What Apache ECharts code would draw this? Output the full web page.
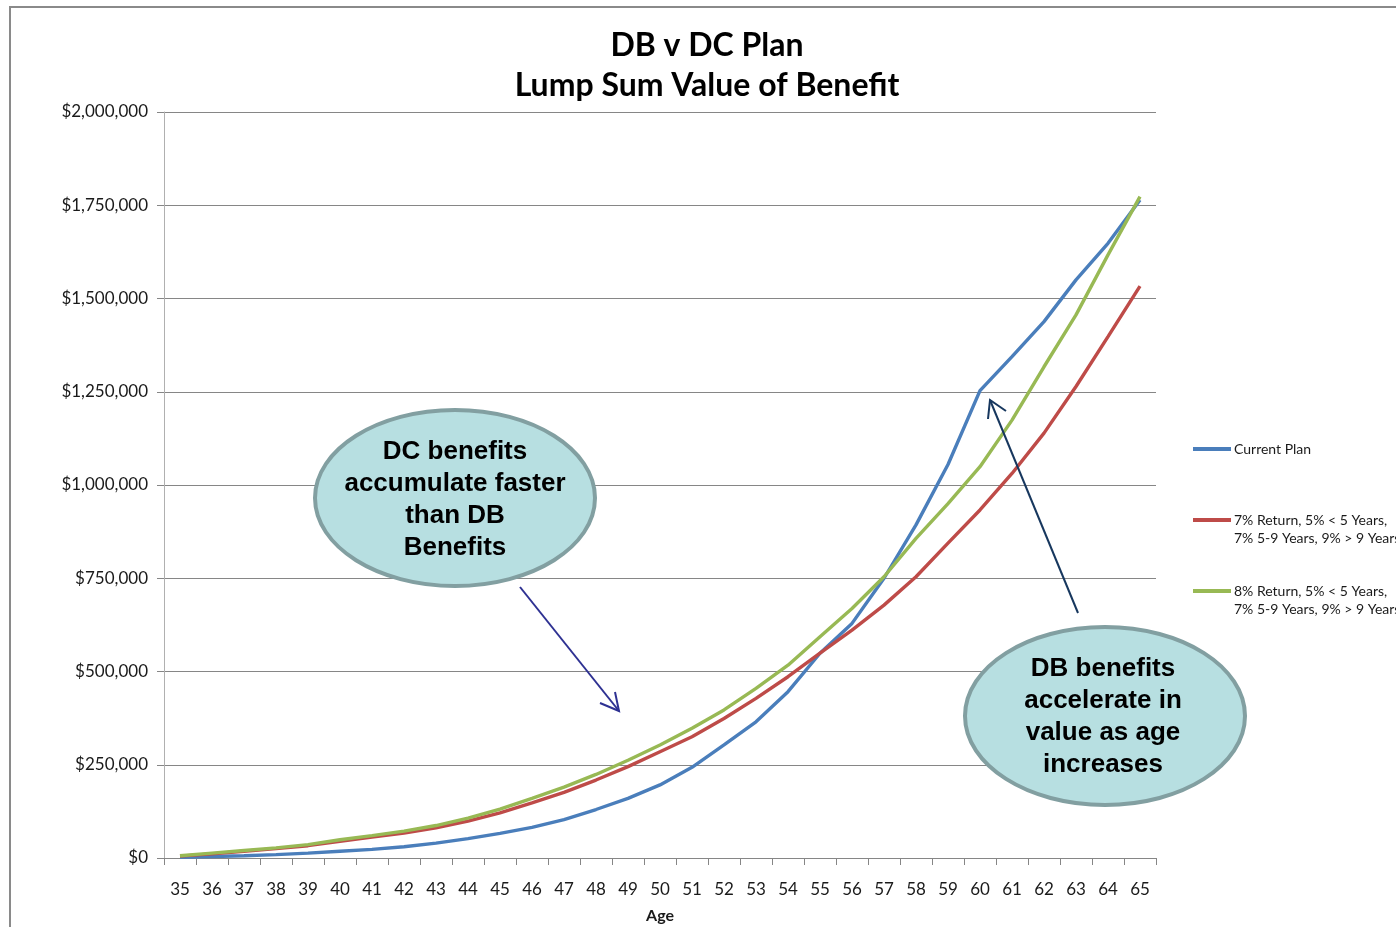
<!DOCTYPE html>
<html>
<head>
<meta charset="utf-8">
<script src="https://cdn.jsdelivr.net/npm/echarts@6/dist/echarts.min.js"></script>
<style>
  html, body { margin: 0; padding: 0; background: #ffffff; }
  #chart { width: 1396px; height: 927px; }
</style>
</head>
<body>
<div id="chart"></div>
<script>
// Ages along the x axis
const ages = ['35','36','37','38','39','40','41','42','43','44','45','46','47','48','49','50',
              '51','52','53','54','55','56','57','58','59','60','61','62','63','64','65'];

// Lump sum value of benefit by age (USD)
const currentPlan = [2000, 4000, 6000, 9000, 13000, 18000, 23000, 30000, 40000, 52000,
                     66000, 82000, 103000, 130000, 160000, 196000, 243000, 303000, 365000, 446000,
                     549000, 629000, 750000, 893000, 1055000, 1253000, 1344000, 1438000, 1550000, 1648000, 1764000];
const return7 = [5000, 11000, 18000, 25000, 33000, 45000, 56000, 67000, 81000, 99000,
                 121000, 148000, 176000, 209000, 245000, 285000, 325000, 374000, 428000, 486000,
                 549000, 611000, 678000, 754000, 844000, 933000, 1031000, 1139000, 1264000, 1398000, 1533000];
const return8 = [6000, 13000, 20000, 27000, 36000, 49000, 60000, 72000, 87000, 107000,
                 131000, 160000, 190000, 224000, 262000, 303000, 348000, 397000, 455000, 517000,
                 593000, 669000, 754000, 857000, 950000, 1049000, 1174000, 1317000, 1456000, 1617000, 1773000];

const seriesNames = [
  'Current Plan',
  '7% Return, 5% < 5 Years,\n7% 5-9 Years, 9% > 9 Years',
  '8% Return, 5% < 5 Years,\n7% 5-9 Years, 9% > 9 Years'
];
const seriesColors = ['#4a7ebb', '#be4b48', '#98b954'];

const yMin = 0, yMax = 2000000, yStep = 250000;

const calloutLeft = ['DC benefits', 'accumulate faster', 'than DB', 'Benefits'];
const calloutRight = ['DB benefits', 'accelerate in', 'value as age', 'increases'];

const chart = echarts.init(document.getElementById('chart'), null, { renderer: 'canvas' });

function money(v) {
  return '$' + String(v).replace(/\B(?=(\d{3})+(?!\d))/g, ',');
}

const axisGray = '#868686';
const uiFont = 'Lato, "Open Sans", sans-serif';
const calloutFont = 'bold 26px "Liberation Sans", Arial, sans-serif';

function lineSeries(name, data, color) {
  return {
    name: name,
    type: 'line',
    data: data,
    symbol: 'none',
    smooth: false,
    lineStyle: { color: color, width: 3.4 },
    itemStyle: { color: color },
    z: 3
  };
}

function calloutText(lines, cx, firstY) {
  return lines.map((t, i) => ({
    type: 'text',
    z: 21,
    style: {
      text: t,
      x: cx,
      y: firstY + i * 32,
      font: calloutFont,
      fill: '#000000',
      align: 'center',
      verticalAlign: 'middle'
    }
  }));
}

const option = {
  backgroundColor: '#ffffff',
  animation: false,
  title: {
    text: 'DB v DC Plan\nLump Sum Value of Benefit',
    left: 702,
    top: 21,
    textAlign: 'center',
    textStyle: {
      fontFamily: uiFont,
      fontWeight: 'bold',
      fontSize: 32,
      lineHeight: 40,
      color: '#000000'
    }
  },
  legend: {
    orient: 'vertical',
    left: 1193,
    top: 422,
    padding: 0,
    itemWidth: 38,
    itemHeight: 4,
    itemGap: 17,
    icon: 'rect',
    data: seriesNames,
    formatter: function (name) {
      // keep the swatch level with the first text row
      return name.indexOf('\n') >= 0 ? '\n' + name : '\n' + name + '\n';
    },
    textStyle: {
      fontFamily: uiFont,
      fontSize: 14,
      lineHeight: 18,
      color: '#1a1a1a',
      padding: [0, 0, 0, -2]
    }
  },
  grid: {
    left: 164,
    top: 112,
    right: 240,
    bottom: 69,
    containLabel: false,
    outerBoundsMode: 'none'
  },
  xAxis: {
    type: 'category',
    data: ages,
    boundaryGap: true,
    name: 'Age',
    nameLocation: 'middle',
    nameGap: 50,
    nameTextStyle: {
      fontFamily: uiFont,
      fontWeight: 'bold',
      fontSize: 16,
      color: '#1a1a1a'
    },
    axisLine: { show: true, lineStyle: { color: axisGray, width: 1 } },
    axisTick: { show: true, alignWithLabel: false, length: 7, lineStyle: { color: axisGray } },
    axisLabel: {
      interval: 0,
      margin: 23,
      fontFamily: uiFont,
      fontSize: 17,
      color: '#1a1a1a'
    },
    splitLine: { show: false }
  },
  yAxis: {
    type: 'value',
    min: yMin,
    max: yMax,
    interval: yStep,
    axisLine: { show: true, lineStyle: { color: '#b0b0b0', width: 1 } },
    axisTick: { show: true, length: 7, lineStyle: { color: axisGray } },
    axisLabel: {
      margin: 16,
      fontFamily: uiFont,
      fontSize: 17,
      color: '#1a1a1a',
      formatter: money
    },
    splitLine: { show: true, lineStyle: { color: axisGray, width: 1 } }
  },
  series: [
    lineSeries(seriesNames[0], currentPlan, seriesColors[0]),
    lineSeries(seriesNames[1], return7, seriesColors[1]),
    lineSeries(seriesNames[2], return8, seriesColors[2])
  ],
  graphic: [
    // chart frame
    {
      type: 'rect',
      z: 0,
      silent: true,
      shape: { x: 10, y: 7, width: 1420, height: 960 },
      style: { fill: 'none', stroke: '#8a8a8a', lineWidth: 2 }
    },
    // left callout
    {
      type: 'ellipse',
      z: 20,
      shape: { cx: 455, cy: 498, rx: 140, ry: 88 },
      style: { fill: '#b7dfe1', stroke: '#829fa1', lineWidth: 4 }
    },
    ...calloutText(calloutLeft, 455, 452),
    {
      type: 'line',
      z: 20,
      shape: { x1: 520, y1: 587, x2: 619, y2: 711 },
      style: { stroke: '#2e3192', lineWidth: 2 }
    },
    {
      type: 'polyline',
      z: 20,
      shape: { points: [[600, 703], [619, 711], [615, 692]] },
      style: { stroke: '#2e3192', lineWidth: 2, fill: 'none' }
    },
    // right callout
    {
      type: 'ellipse',
      z: 20,
      shape: { cx: 1105, cy: 716, rx: 140, ry: 89 },
      style: { fill: '#b7dfe1', stroke: '#829fa1', lineWidth: 4 }
    },
    ...calloutText(calloutRight, 1103, 669),
    {
      type: 'line',
      z: 20,
      shape: { x1: 1078, y1: 613, x2: 990, y2: 400 },
      style: { stroke: '#17375e', lineWidth: 2 }
    },
    {
      type: 'polyline',
      z: 20,
      shape: { points: [[988, 419], [990, 400], [1006, 411]] },
      style: { stroke: '#17375e', lineWidth: 2, fill: 'none' }
    }
  ]
};

chart.setOption(option);
</script>
</body>
</html>
